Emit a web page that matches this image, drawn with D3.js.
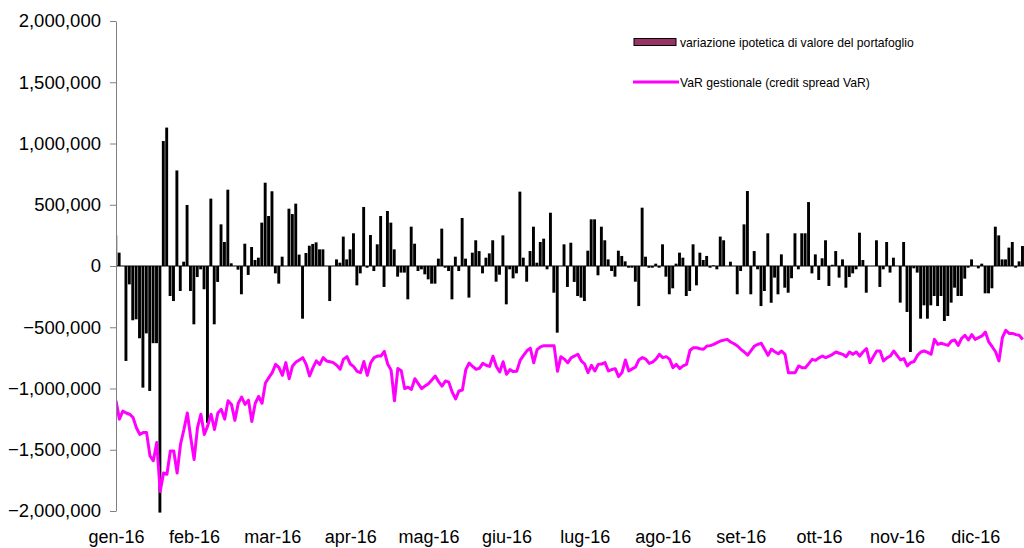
<!DOCTYPE html>
<html>
<head>
<meta charset="utf-8">
<script src="https://cdn.jsdelivr.net/npm/d3@7"></script>
<style>
  body { margin: 0; background: #fff; }
  text { font-family: "Liberation Sans", Arial, sans-serif; }
</style>
</head>
<body>
<div id="chart"></div>
<script>
// Month labels on the category axis (one label every 23 business days)
var monthLabels = ["gen-16", "feb-16", "mar-16", "apr-16", "mag-16", "giu-16",
  "lug-16", "ago-16", "set-16", "ott-16", "nov-16", "dic-16"];
var labelEvery = 23;

// Y axis ticks (euro)
var yTicks = [-2000000, -1500000, -1000000, -500000, 0, 500000, 1000000, 1500000, 2000000];

// Daily hypothetical change in portfolio value (thousands of euro)
var variazioneK = [
  250, 109, 0, -775, -150, -443, -435, -590, -993, -550, -1020, -630, -630, -2013, 1020, 1130,
  -245, -286, 780, -204, 35, 498, -204, -476, -90, -27, -190, -1280, 550, -476, -130, 340,
  196, 623, 22, 0, -30, -231, 182, -73, 155, 49, 68, 354, 680,
  408, 610, -60, -144, 76, 0, 468, 424, 509, 93, -430, 106, 166, 180, 193, 136, 136, 0,
  -286, 0, 54, 27, 240, 54, 136, 267, -158, -60, 482, -14, 253, -41, 177, 408, -171, 449,
  354, 136, -87, -54, -54, -272, 321, 182,
  -41, -27, -68, -109, -144, -144, 60, 305, -14, -41, -272, 76, -41, 392, 60, -258, 109,
  210, 122, -60, 68, 103, 210, -128, -71, 250, -313, -27, -101, -60, 607, 68, -128, 122,
  321, 27, 196, 223, -27, 435, -218, -544, 0,
  177, -171, 190, -130, -245, -258, -286, 125, 381, 381, -76, 321, 210, 54, -41, -87, 125,
  82, 38, -14, -14, -128, -327, 476,
  76, -14, -14, 19, -14, 177, -87, -231, -182, 19, 109, 68, -245, -204, 177, -158, 109,
  49, 82, -14, 5, -27,
  240, 210, 0, 35, 0, -231, -41, 340, 612, -231, 122, -27, -327, -204, 267, -300, -95,
  -231, 95, -177, -218, -100, 267, -27, 267, 267, 522, -60, 95, -114, 63, 210, -163, 10,
  122, -95, 54, -177, -90, -60, -27, 272,
  49, -218, 0, 0, 210, -171, -27, 196, -54, 68, 0, -299, 196, -375, -702, -19, -54, -430,
  -321, -430, -321, -245, -327, -245, -449, -408, -299, -177, -245, -245, -103, -14, 54, 0,
  -19, 19, -223, -223, -182, 321, 250, 54, 54, 150, 196, -14, 38, 163
];

// Daily managerial VaR (credit spread VaR, thousands of euro)
var varGestionaleK = [
  -1100, -1250, -1185, -1200, -1210, -1235, -1320, -1375, -1360, -1360, -1550, -1590, -1440,
  -1840, -1690, -1700, -1510, -1510, -1690, -1455, -1335, -1200, -1400, -1580, -1320, -1210,
  -1375, -1305, -1210, -1335, -1200, -1170, -1250, -1100, -1130, -1260, -1120, -1070, -1130,
  -1095, -1270, -1120, -1065, -1120, -955,
  -911, -870, -803, -830, -892, -789, -920, -816, -784, -767, -748, -803, -898, -830, -775,
  -803, -748, -775, -782, -789, -811, -843, -760, -740, -800, -822, -860, -871, -780, -892,
  -790, -748, -735, -735, -697, -800, -850, -1100, -836, -855, -1000, -990, -1007, -920,
  -960, -1001, -980, -962, -930, -898, -944, -980, -939, -948, -1030, -1085, -1020, -1012,
  -846, -792, -820, -843, -836, -795, -810, -820, -737, -820, -865, -782, -884, -846, -862,
  -860, -770, -730, -692, -670, -790, -683, -660, -650, -650, -650, -650, -860, -740,
  -760, -790, -750, -735, -720, -775, -800, -871, -811, -857, -803, -800, -789, -857, -845,
  -838, -903, -870, -767, -857, -840, -824, -765, -748,
  -760, -795, -784, -760, -721, -748, -740, -760, -830, -803, -838, -815, -803, -690, -667,
  -667, -675, -680, -653, -650, -640, -626,
  -612, -605, -599, -620, -635, -653, -680, -702, -727, -690, -653, -640, -631, -680, -729,
  -680, -700, -716, -694, -721, -871, -871, -871, -816, -830, -830, -797, -762, -770, -750,
  -735, -748, -735, -721, -702, -712, -721, -740, -702, -721, -702, -735,
  -700, -675, -789, -740, -694, -694, -775, -750, -735, -694, -730, -767, -756, -816, -789,
  -780, -730, -702, -694, -705, -721, -599, -640, -631, -640, -648, -612, -604, -648, -590,
  -566, -604, -560, -599, -585, -571, -539, -620, -659, -700, -775, -585, -525, -550, -550,
  -560, -566, -600
];

// Legend entries
var barLegend = "variazione ipotetica di valore del portafoglio";
var lineLegend = "VaR gestionale (credit spread VaR)";

var svgWidth = 1024;
var svgHeight = 548;

var plotLeft = 116;
var plotTop = 21;
var plotBottom = 511;
var dayStep = 3.396;

var svg = d3.select("#chart")
  .append("svg")
  .attr("width", svgWidth)
  .attr("height", svgHeight);

// Scales
var xScale = d3.scaleLinear()
  .domain([0, monthLabels.length * labelEvery])
  .range([plotLeft, plotLeft + monthLabels.length * labelEvery * dayStep]);

var yScale = d3.scaleLinear()
  .domain([-2000000, 2000000])
  .range([plotBottom, plotTop]);

var step = xScale(1) - xScale(0);

// Clip the plot area to the right of the value axis
svg.append("clipPath")
  .attr("id", "plot-clip")
  .append("rect")
  .attr("x", plotLeft)
  .attr("y", 0)
  .attr("width", svgWidth - plotLeft)
  .attr("height", svgHeight);

var plot = svg.append("g").attr("clip-path", "url(#plot-clip)");

// Bars
plot.append("g")
  .selectAll("rect")
  .data(variazioneK)
  .enter()
  .append("rect")
  .attr("x", (d, i) => xScale(i) - step / 2)
  .attr("width", step - 0.5)
  .attr("y", d => yScale(Math.max(0, d * 1000)))
  .attr("height", d => Math.abs(yScale(d * 1000) - yScale(0)))
  .attr("fill", "#000");

// Zero line (category axis)
svg.append("line")
  .attr("x1", plotLeft)
  .attr("x2", svgWidth)
  .attr("y1", yScale(0))
  .attr("y2", yScale(0))
  .attr("stroke", "#000")
  .attr("stroke-width", 1);

// VaR line
var varLine = d3.line()
  .x((d, i) => xScale(i))
  .y(d => yScale(d * 1000));

plot.append("path")
  .datum(varGestionaleK)
  .attr("d", varLine)
  .attr("fill", "none")
  .attr("stroke", "#ff00ff")
  .attr("stroke-width", 3)
  .attr("stroke-linejoin", "round");

// Value axis
var leftAxis = d3.axisLeft(yScale)
  .tickValues(yTicks)
  .tickFormat(d3.format(","))
  .tickSize(6)
  .tickPadding(9)
  .tickSizeOuter(0);

var yAxis = svg.append("g")
  .attr("transform", `translate(${plotLeft}, 0)`)
  .call(leftAxis);

yAxis.select(".domain").attr("stroke", "#808080");
yAxis.selectAll(".tick line").attr("stroke", "#808080");
yAxis.selectAll("text")
  .attr("font-size", "18.5px")
  .attr("fill", "#000")
  .attr("font-family", "Liberation Sans, Arial, sans-serif");

// Month labels along the bottom
var bottomAxis = d3.axisBottom(xScale)
  .tickValues(monthLabels.map((m, k) => k * labelEvery))
  .tickFormat((d, k) => monthLabels[k])
  .tickSize(0)
  .tickPadding(0);

var xAxis = svg.append("g")
  .attr("transform", "translate(0, 543)")
  .call(bottomAxis);

xAxis.select(".domain").remove();
xAxis.selectAll("text")
  .attr("y", 0)
  .attr("dy", 0)
  .attr("font-size", "18px")
  .attr("fill", "#000")
  .attr("font-family", "Liberation Sans, Arial, sans-serif");

// Legend
var legend = svg.append("g");

legend.append("rect")
  .attr("x", 634)
  .attr("y", 38.5)
  .attr("width", 42)
  .attr("height", 7)
  .attr("fill", "#993366")
  .attr("stroke", "#000")
  .attr("stroke-width", 1);

legend.append("text")
  .attr("x", 680)
  .attr("y", 46.5)
  .attr("font-size", "12.2px")
  .text(barLegend);

legend.append("line")
  .attr("x1", 633)
  .attr("x2", 679)
  .attr("y1", 82)
  .attr("y2", 82)
  .attr("stroke", "#ff00ff")
  .attr("stroke-width", 3);

legend.append("text")
  .attr("x", 680)
  .attr("y", 86.5)
  .attr("font-size", "12.2px")
  .text(lineLegend);
</script>
</body>
</html>
